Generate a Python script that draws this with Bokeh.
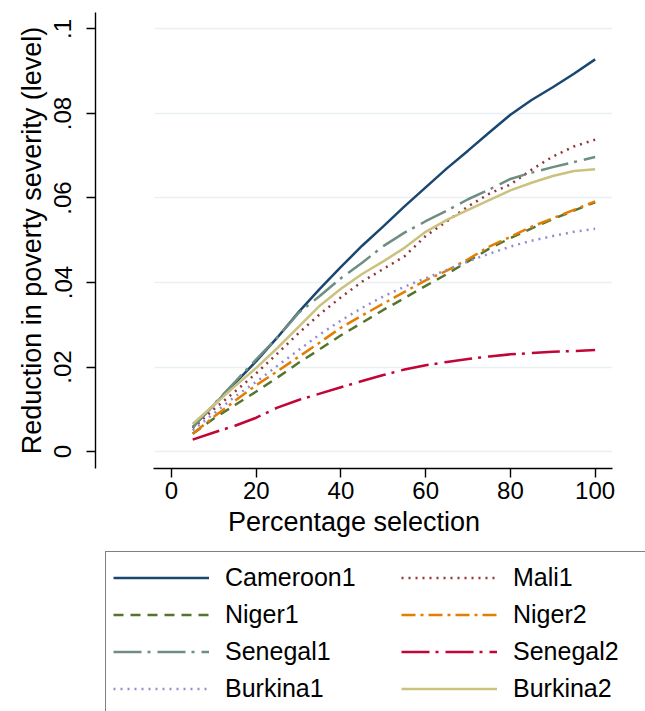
from bokeh.plotting import figure
from bokeh.models import Legend, LegendItem, FixedTicker, Range1d
from bokeh.embed import file_html
from bokeh.resources import INLINE

# ---- data ----
pct = [5, 10, 15, 20, 25, 30, 35, 40, 45, 50, 55, 60, 65, 70, 75, 80, 85, 90, 95, 100]

cameroon1 = [0.0058, 0.0110, 0.0162, 0.0214, 0.0270, 0.0330, 0.0385, 0.0437, 0.0487, 0.0533,
             0.0580, 0.0625, 0.0670, 0.0712, 0.0755, 0.0797, 0.0832, 0.0862, 0.0894, 0.0928]
mali1 = [0.0055, 0.0100, 0.0142, 0.0185, 0.0232, 0.0280, 0.0325, 0.0365, 0.0402, 0.0432,
         0.0462, 0.0510, 0.0545, 0.0580, 0.0610, 0.0632, 0.0667, 0.0698, 0.0722, 0.0738]
niger1 = [0.0042, 0.0078, 0.0110, 0.0142, 0.0175, 0.0210, 0.0242, 0.0275, 0.0305, 0.0335,
          0.0363, 0.0392, 0.0420, 0.0450, 0.0480, 0.0505, 0.0528, 0.0550, 0.0570, 0.0590]
niger2 = [0.0042, 0.0082, 0.0120, 0.0157, 0.0190, 0.0224, 0.0258, 0.0293, 0.0322, 0.0350,
          0.0378, 0.0405, 0.0428, 0.0455, 0.0485, 0.0508, 0.0532, 0.0552, 0.0572, 0.0592]
senegal1 = [0.0056, 0.0112, 0.0165, 0.0218, 0.0270, 0.0328, 0.0368, 0.0410, 0.0447, 0.0486,
            0.0518, 0.0545, 0.0570, 0.0597, 0.0620, 0.0645, 0.0660, 0.0673, 0.0685, 0.0697]
senegal2 = [0.0028, 0.0045, 0.0061, 0.0080, 0.0104, 0.0122, 0.0137, 0.0152, 0.0167, 0.0181,
            0.0194, 0.0204, 0.0212, 0.0219, 0.0225, 0.0230, 0.0233, 0.0236, 0.0238, 0.0240]
burkina1 = [0.0050, 0.0090, 0.0130, 0.0165, 0.0203, 0.0240, 0.0277, 0.0310, 0.0340, 0.0367,
            0.0390, 0.0410, 0.0430, 0.0450, 0.0468, 0.0485, 0.0499, 0.0510, 0.0520, 0.0527]
burkina2 = [0.0065, 0.0110, 0.0155, 0.0198, 0.0245, 0.0295, 0.0345, 0.0385, 0.0420, 0.0450,
            0.0482, 0.0520, 0.0548, 0.0572, 0.0595, 0.0618, 0.0636, 0.0652, 0.0664, 0.0668]

series_names = ["Cameroon1", "Mali1", "Niger1", "Niger2",
                "Senegal1", "Senegal2", "Burkina1", "Burkina2"]
series_values = [cameroon1, mali1, niger1, niger2, senegal1, senegal2, burkina1, burkina2]

x_ticks = [0, 20, 40, 60, 80, 100]
y_ticks = [0, 0.02, 0.04, 0.06, 0.08, 0.1]
y_tick_labels = ["0", ".02", ".04", ".06", ".08", ".1"]

x_title = "Percentage selection"
y_title = "Reduction in poverty severity (level)"

# ---- styles ----
colors = ["#1a476f", "#90353b", "#55752f", "#e37e00",
          "#6e8e84", "#c10534", "#938dd2", "#cac27e"]
dashes = ["solid", "2 5", "10 7", "14 5 3 5",
          "28 6 3 7", "28 6 3 7", "2 5", "solid"]
FONT = "Liberation Sans"
LW = 2.5

p = figure(width=645, height=550, output_backend="svg", toolbar_location=None,
           x_range=Range1d(-17.94, 104.1), y_range=Range1d(-0.00402, 0.1039),
           min_border_left=95, min_border_right=33, min_border_top=12,
           min_border_bottom=82)
p.outline_line_color = None
p.background_fill_color = "white"
p.border_fill_color = "white"

for vals, c, d in zip(series_values, colors, dashes):
    p.line(pct, vals, line_color=c, line_width=LW, line_dash=d)

# grid
p.xgrid.visible = False
p.ygrid.ticker = FixedTicker(ticks=y_ticks)
p.ygrid.grid_line_color = "#e8f0f2"
p.ygrid.grid_line_width = 1.6
p.ygrid.cross_bounds = (-4.0, 104.1)

# axes
xa = p.xaxis[0]
xa.ticker = FixedTicker(ticks=x_ticks)
xa.bounds = (-4.2, 104.1)
ya = p.yaxis[0]
ya.ticker = FixedTicker(ticks=y_ticks)
ya.major_label_overrides = dict(zip(y_ticks, y_tick_labels))
ya.major_label_orientation = "vertical"

for ax in (xa, ya):
    ax.axis_line_color = "black"
    ax.axis_line_width = 1.4
    ax.major_tick_line_color = "black"
    ax.major_tick_line_width = 1.4
    ax.major_tick_out = 9
    ax.major_tick_in = 0
    ax.minor_tick_line_color = None
    ax.major_label_text_font = FONT
    ax.major_label_text_font_size = "24px"
    ax.major_label_text_color = "black"
    ax.axis_label_text_font = FONT
    ax.axis_label_text_font_size = "27px"
    ax.axis_label_text_font_style = "normal"
    ax.axis_label_text_color = "black"

xa.axis_label = x_title
ya.axis_label = y_title
xa.major_label_standoff = 4
xa.axis_label_standoff = 5
ya.major_label_standoff = 15
ya.axis_label_standoff = 5

# ---- legend panel (second figure, same series as legend keys) ----
p2 = figure(width=645, height=161, output_backend="svg", toolbar_location=None,
            x_range=Range1d(-1000, -999), y_range=Range1d(-1000, -999),
            x_axis_type=None, y_axis_type=None,
            min_border_left=0, min_border_right=0, min_border_top=0, min_border_bottom=0)
p2.outline_line_color = None
p2.grid.visible = False
p2.border_fill_color = "white"
p2.background_fill_color = "white"

keys = []
for vals, c, d in zip(series_values, colors, dashes):
    keys.append(p2.line(pct, vals, line_color=c, line_width=LW, line_dash=d))

items = [LegendItem(label=n, renderers=[r]) for n, r in zip(series_names, keys)]
legend = Legend(items=items, location=(105, -4), ncols=2, orientation="horizontal",
                glyph_width=96, glyph_height=37, label_standoff=16, label_width=176,
                spacing=0, padding=7, margin=0,
                border_line_color="black", border_line_width=1.2,
                label_text_font=FONT, label_text_font_size="25px",
                label_text_color="black", background_fill_color="white")
p2.add_layout(legend, "center")

open("out.html", "w").write(file_html([p, p2], INLINE))
